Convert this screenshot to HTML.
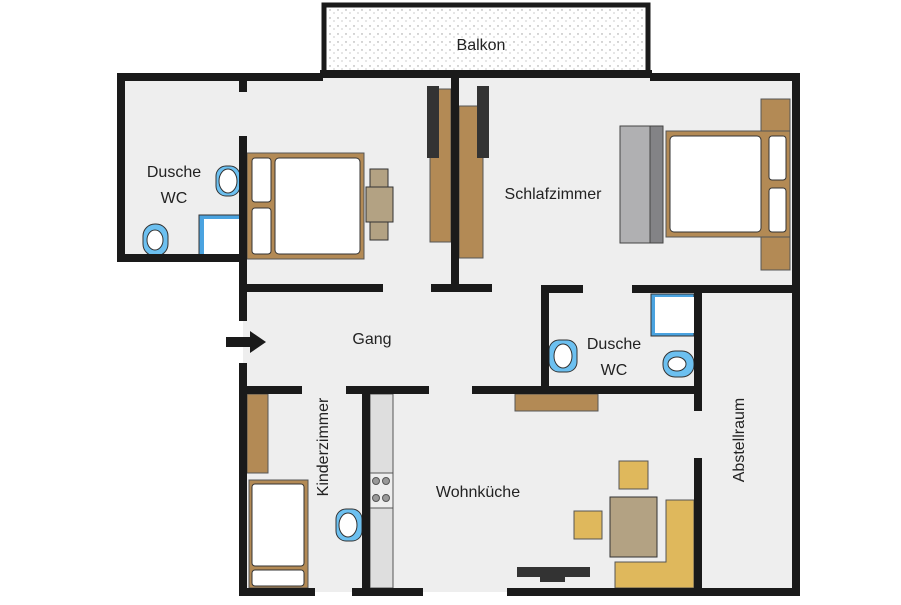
<!DOCTYPE html><html><head><style>body{margin:0;background:#fff}</style></head><body>
<svg width="901" height="600" xmlns="http://www.w3.org/2000/svg" font-family="Liberation Sans, sans-serif">
<defs><pattern id="st" width="8" height="8" patternUnits="userSpaceOnUse"><rect width="8" height="8" fill="#fff"/><circle cx="2" cy="2" r="0.7" fill="#999"/><circle cx="6" cy="5" r="0.6" fill="#aaa"/></pattern></defs>
<rect x="324" y="5" width="324" height="70" fill="url(#st)" stroke="#1a1a1a" stroke-width="5"/>
<text x="481" y="50" font-size="16" text-anchor="middle" fill="#222">Balkon</text>
<path d="M121,77 H796 V592 H243 V389 H243 V258 H121 Z" fill="#eeeeee"/>
<g fill="#b38a55" stroke="#555" stroke-width="1">
<rect x="247" y="153" width="117" height="106"/>
<rect x="430" y="89" width="21" height="153"/><rect x="459" y="106" width="24" height="152"/>
<rect x="761" y="99" width="29" height="171"/><rect x="666" y="131" width="124" height="106"/>
<rect x="515" y="394" width="83" height="17"/><rect x="247" y="394" width="21" height="79"/>
<rect x="249" y="480" width="59" height="108"/></g>
<g fill="#fff" stroke="#333" stroke-width="1">
<rect x="275" y="158" width="85" height="96" rx="4"/><rect x="252" y="158" width="19" height="44" rx="3"/><rect x="252" y="208" width="19" height="46" rx="3"/>
<rect x="670" y="136" width="91" height="96" rx="4"/><rect x="769" y="136" width="17" height="44" rx="3"/><rect x="769" y="188" width="17" height="44" rx="3"/>
<rect x="252" y="484" width="52" height="82" rx="3"/><rect x="252" y="570" width="52" height="16" rx="3"/></g>
<g fill="#b3a283" stroke="#333"><rect x="370" y="169" width="18" height="71"/><rect x="366" y="187" width="27" height="35"/><rect x="610" y="497" width="47" height="60"/></g>
<g fill="#333"><rect x="427" y="86" width="12" height="72"/><rect x="477" y="86" width="12" height="72"/><rect x="517" y="567" width="73" height="10"/><rect x="540" y="577" width="25" height="5"/></g>
<rect x="620" y="126" width="43" height="117" fill="#b0b0b2" stroke="#444"/><rect x="650" y="126" width="13" height="117" fill="#838386" stroke="#444"/>
<g fill="#4aa3e0" stroke="#333">
<rect x="199" y="215" width="41" height="40" /><rect x="651" y="294" width="43" height="42"/></g>
<rect x="204" y="219" width="36" height="36" fill="#fff"/><rect x="655" y="297" width="39" height="36" fill="#fff"/>
<g fill="#6cc0f0" stroke="#333"><rect x="216" y="166" width="24" height="30" rx="10"/><rect x="143" y="224" width="25" height="32" rx="12"/>
<rect x="549" y="340" width="28" height="32" rx="10"/><rect x="663" y="351" width="31" height="26" rx="12"/><rect x="336" y="509" width="26" height="32" rx="10"/></g>
<g fill="#fff" stroke="#333"><ellipse cx="228" cy="181" rx="9" ry="12"/><ellipse cx="155" cy="240" rx="8" ry="10"/><ellipse cx="563" cy="356" rx="9" ry="12"/><ellipse cx="677" cy="364" rx="9" ry="7"/><ellipse cx="348" cy="525" rx="9" ry="12"/></g>
<rect x="370" y="394" width="23" height="194" fill="#dedede" stroke="#555"/>
<rect x="370" y="473" width="23" height="35" fill="#eee" stroke="#555"/>
<g fill="#999" stroke="#555"><circle cx="376" cy="481" r="3.5"/><circle cx="386" cy="481" r="3.5"/><circle cx="376" cy="498" r="3.5"/><circle cx="386" cy="498" r="3.5"/></g>
<g fill="#dfb85c" stroke="#555"><rect x="619" y="461" width="29" height="28"/><rect x="574" y="511" width="28" height="28"/>
<path d="M666,500 H694 V588 H615 V562 H666 Z"/></g>
<g fill="#1a1a1a">
<rect x="117" y="73" width="206" height="8"/><rect x="650" y="73" width="150" height="8"/><rect x="320" y="70" width="332" height="8"/>
<rect x="117" y="73" width="8" height="189"/><rect x="117" y="254" width="130" height="8"/><rect x="239" y="73" width="8" height="19"/>
<rect x="239" y="136" width="8" height="185"/><rect x="239" y="363" width="8" height="233"/>
<rect x="451" y="73" width="8" height="219"/><rect x="239" y="284" width="144" height="8"/><rect x="431" y="284" width="61" height="8"/>
<rect x="541" y="285" width="42" height="8"/><rect x="632" y="285" width="168" height="8"/><rect x="541" y="285" width="8" height="108"/>
<rect x="694" y="285" width="8" height="126"/><rect x="694" y="458" width="8" height="138"/><rect x="792" y="73" width="8" height="523"/>
<rect x="472" y="386" width="230" height="8"/><rect x="239" y="386" width="63" height="8"/><rect x="346" y="386" width="83" height="8"/>
<rect x="362" y="386" width="8" height="210"/>
<rect x="239" y="588" width="76" height="8"/><rect x="352" y="588" width="71" height="8"/><rect x="507" y="588" width="293" height="8"/>
<path d="M226,337 H250 V331 L266,342 L250,353 V347 H226 Z"/></g>
<g font-size="16" fill="#222" text-anchor="middle">
<text x="174" y="177">Dusche</text><text x="174" y="203">WC</text>
<text x="553" y="199">Schlafzimmer</text><text x="372" y="344">Gang</text>
<text x="614" y="349">Dusche</text><text x="614" y="375">WC</text>
<text x="478" y="497">Wohnküche</text>
<text transform="translate(328,447) rotate(-90)">Kinderzimmer</text>
<text transform="translate(744,440) rotate(-90)">Abstellraum</text></g>
</svg></body></html>
